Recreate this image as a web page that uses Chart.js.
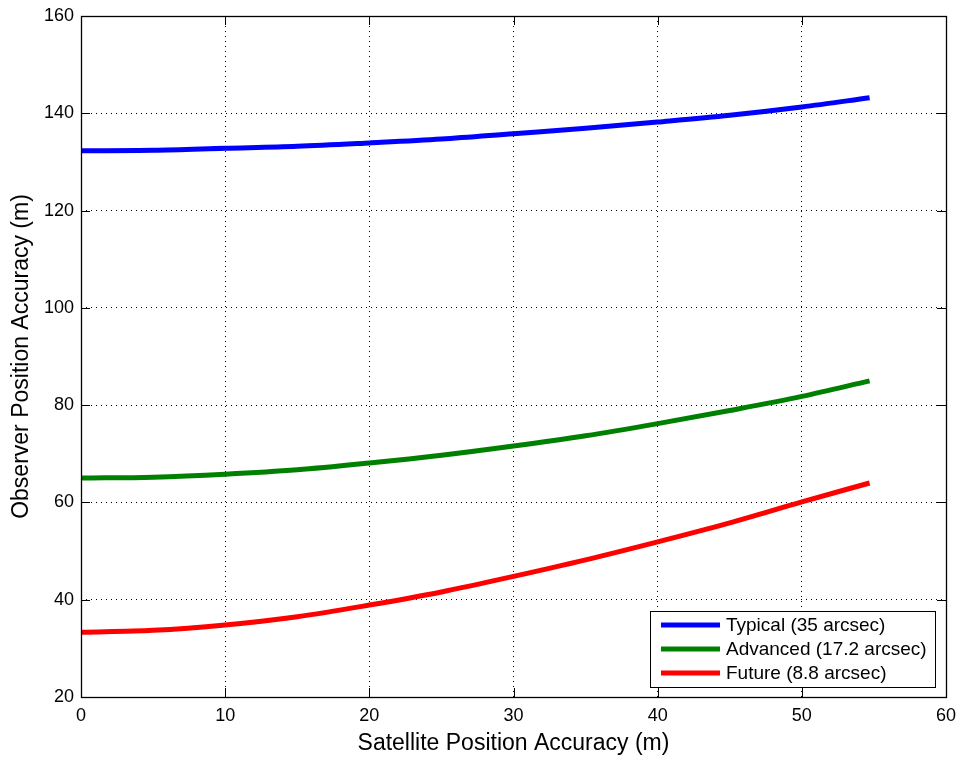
<!DOCTYPE html>
<html>
<head>
<meta charset="utf-8">
<script src="https://cdn.jsdelivr.net/npm/chart.js@4"></script>
<style>
  html, body { margin: 0; padding: 0; background: #fff; }
  #wrap { width: 960px; height: 757px; }
</style>
</head>
<body>
<div id="wrap"><canvas id="chart" width="960" height="757"></canvas></div>
<script>
'use strict';

// Satellite position accuracy (m)
const satAccuracy = [0, 5, 10, 15, 20, 25, 30, 35, 40, 45, 50, 54.7];

// Observer position accuracy (m)
const typical  = [132.3, 132.4, 132.8, 133.2, 133.9, 134.7, 135.8, 136.9, 138.2, 139.6, 141.3, 143.2];
const advanced = [65.0, 65.2, 65.8, 66.7, 68.1, 69.7, 71.6, 73.7, 76.2, 78.9, 81.8, 85.0];
const future   = [33.3, 33.7, 34.8, 36.5, 38.9, 41.6, 44.8, 48.2, 51.9, 55.8, 60.1, 64.0];

const seriesLabels = ['Typical (35 arcsec)', 'Advanced (17.2 arcsec)', 'Future (8.8 arcsec)'];
const seriesColors = ['#0000ff', '#008000', '#ff0000'];

const FONT = '"Liberation Sans", Arial, Helvetica, sans-serif';

const toPoints = ys => ys.map((y, i) => ({ x: satAccuracy[i], y }));

// box + inward tick marks, MATLAB style
const boxPlugin = {
  id: 'box',
  afterDraw(chart) {
    const { ctx, chartArea: a, scales } = chart;
    ctx.save();
    ctx.strokeStyle = '#000';
    ctx.lineWidth = 1;
    ctx.beginPath();
    const len = 9;
    scales.x.ticks.forEach(t => {
      const px = Math.round(scales.x.getPixelForValue(t.value)) + 0.5;
      ctx.moveTo(px, a.bottom); ctx.lineTo(px, a.bottom - len);
      ctx.moveTo(px, a.top);    ctx.lineTo(px, a.top + len);
    });
    scales.y.ticks.forEach(t => {
      const py = Math.round(scales.y.getPixelForValue(t.value)) + 0.5;
      ctx.moveTo(a.left, py);  ctx.lineTo(a.left + len, py);
      ctx.moveTo(a.right, py); ctx.lineTo(a.right - len, py);
    });
    ctx.stroke();
    ctx.lineWidth = 1.3;
    ctx.strokeRect(a.left + 0.5, a.top + 0.5, a.right - a.left, a.bottom - a.top);
    ctx.restore();
  },
};

// legend box in the lower right corner of the plot
const legendPlugin = {
  id: 'boxLegend',
  afterDraw(chart) {
    const { ctx, chartArea: a } = chart;
    const w = 285, h = 76;
    const x = a.right - 11 - w, y = a.bottom - 10 - h;
    ctx.save();
    ctx.fillStyle = '#fff';
    ctx.fillRect(x, y, w, h);
    ctx.strokeStyle = '#000';
    ctx.lineWidth = 1;
    ctx.strokeRect(x + 0.5, y + 0.5, w, h);
    ctx.font = '19px ' + FONT;
    ctx.textBaseline = 'middle';
    chart.data.datasets.forEach((ds, i) => {
      const cy = y + 14 + i * 24;
      ctx.strokeStyle = ds.borderColor;
      ctx.lineWidth = 5;
      ctx.beginPath();
      ctx.moveTo(x + 11, cy); ctx.lineTo(x + 70, cy);
      ctx.stroke();
      ctx.fillStyle = '#000';
      ctx.fillText(ds.label, x + 76, cy + 1);
    });
    ctx.restore();
  },
};

const datasets = [typical, advanced, future].map((ys, i) => ({
  label: seriesLabels[i],
  data: toPoints(ys),
  borderColor: seriesColors[i],
  backgroundColor: seriesColors[i],
  borderWidth: 5,
  pointRadius: 0,
  cubicInterpolationMode: 'monotone',
  fill: false,
}));

const gridStyle = {
  color: '#000',
  lineWidth: 1,
  drawTicks: false,
};

new Chart(document.getElementById('chart'), {
  type: 'line',
  data: { datasets },
  options: {
    responsive: false,
    animation: false,
    layout: { padding: { top: 16, right: 14, left: 0, bottom: 0 } },
    plugins: {
      legend: { display: false },
      tooltip: { enabled: false },
    },
    scales: {
      x: {
        type: 'linear',
        min: 0,
        max: 60,
        ticks: { stepSize: 10, color: '#000', font: { family: FONT, size: 18 }, padding: 8, maxRotation: 0 },
        grid: gridStyle,
        border: { display: false, dash: [1, 4] },
        title: { display: true, text: 'Satellite Position Accuracy (m)', color: '#000', font: { family: FONT, size: 23 }, padding: { top: 3, bottom: 0 } },
        afterFit: s => { s.height = 60; s.paddingLeft = 0; s.paddingRight = 0; },
      },
      y: {
        min: 20,
        max: 160,
        ticks: { stepSize: 20, color: '#000', font: { family: FONT, size: 18 }, padding: 7 },
        grid: gridStyle,
        border: { display: false, dash: [1, 4] },
        title: { display: true, text: 'Observer Position Accuracy (m)', color: '#000', font: { family: FONT, size: 23 }, padding: { top: 8, bottom: 0 } },
        afterFit: s => { s.width = 81; s.paddingTop = 0; s.paddingBottom = 0; },
      },
    },
  },
  plugins: [boxPlugin, legendPlugin],
});
</script>
</body>
</html>
